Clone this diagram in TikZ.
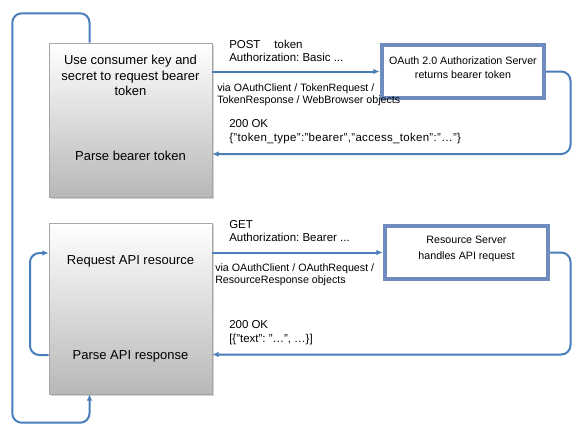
\documentclass[tikz,border=0pt]{standalone}
\usepackage{fontspec}
\setmainfont{Liberation Sans}
\usetikzlibrary{arrows.meta,fit,shadows,positioning}

\definecolor{flowblue}{RGB}{74,126,187}
\definecolor{srvblue}{RGB}{110,141,190}

\tikzset{
	flow/.style={draw=flowblue,line width=1.5pt,rounded corners=7pt,-{Latex[length=4.8pt,width=4.2pt]}},
	clientbox/.style={draw=black!35,top color=white,bottom color=black!28,inner sep=0pt,
		drop shadow={opacity=0.35,shadow xshift=1.2pt,shadow yshift=-1.5pt}},
	serverbox/.style={draw=srvblue,line width=3.3pt,fill=white,inner sep=0pt,align=center},
	boxtext/.style={align=center,inner sep=0pt,font=\fontsize{9.75}{11.6}\selectfont},
	lbl/.style={anchor=west,align=left,inner sep=0pt,font=\fontsize{8.6}{10.3}\selectfont},
	vialbl/.style={anchor=west,align=left,inner sep=0pt,font=\fontsize{8}{9.5}\selectfont}
}
\newcommand{\qq}{\symbol{34}}
\newcommand{\us}{\symbol{95}}

\begin{document}
\frenchspacing
\begin{tikzpicture}[x=0.75pt,y=-0.75pt]

	\useasboundingbox (0,0) rectangle (583,436);

	% client side
	\node[clientbox,fit={(49,43) (212,197)}] (tok) {};
	\node[clientbox,fit={(49,223) (212,394)}] (api) {};

	\node[boxtext] (tokreq) at (130.5,75.5) {Use consumer key and\\secret to request bearer\\token};
	\node[boxtext] (tokparse) at (130.5,155.5) {Parse bearer token};
	\node[boxtext] (apireq) at (130.5,261) {Request API resource};
	\node[boxtext] (apiparse) at (130.5,356.5) {Parse API response};

	% servers
	\node[serverbox,fit={(382,45) (544,98)},font=\fontsize{8}{10}\selectfont] (auth)
		{OAuth 2.0 Authorization Server\\returns bearer token};
	\node[serverbox,fit={(385,226) (548,279)},font=\fontsize{8}{11.5}\selectfont] (res)
		{Resource Server\\handles API request};

	% labels
	\node[lbl] (postlbl) at (229,51) {POST\hspace{10.5pt}token\\Authorization: Basic ...};
	\node[vialbl] (tokvia) at (217,94.7) {via OAuthClient / TokenRequest /\\TokenResponse / WebBrowser objects};
	\node[lbl] (tokok) at (229,132) {200 OK\\{\addfontfeature{LetterSpace=2.8}\{\qq token\us type\qq:\qq bearer\qq,\qq access\us token\qq:\qq…\qq\}}};
	\node[lbl] (getlbl) at (229,231) {GET\\Authorization: Bearer ...};
	\node[vialbl] (apivia) at (215,274.7) {via OAuthClient / OAuthRequest /\\ResourceResponse objects};
	\node[lbl] (apiok) at (229,333) {200 OK\\{[}\{\qq text\qq: \qq…\qq, …\}{]}};

	\coordinate (tokin) at (tok.east |- 0,154);
	\coordinate (apiin) at (api.east |- 0,354.5);
	\coordinate (apiout) at (api.west |- 0,355);
	\coordinate (apiback) at (api.west |- 0,253);
	\coordinate (tokout) at (tok.north -| 89.5,0);
	\coordinate (apibottom) at (api.south -| 89.5,0);

	% token round trip
	\draw[flow] (tok.east |- auth.west) -- (auth.west);
	\draw[flow] (auth.east) -- (570.5,71.5) -- (570.5,154) -- (tokin);

	% resource round trip
	\draw[flow] (api.east |- res.west) -- (res.west);
	\draw[flow] (res.east) -- (570.5,252.5) -- (570.5,354.5) -- (apiin);

	% loops
	\draw[flow] (apiout) -- (30,355) -- (30,253) -- (apiback);
	\draw[flow] (tokout) -- (89.5,13.3) -- (12.3,13.3) -- (12.3,422.7) -- (89.5,422.7) -- (apibottom);

\end{tikzpicture}
\end{document}
